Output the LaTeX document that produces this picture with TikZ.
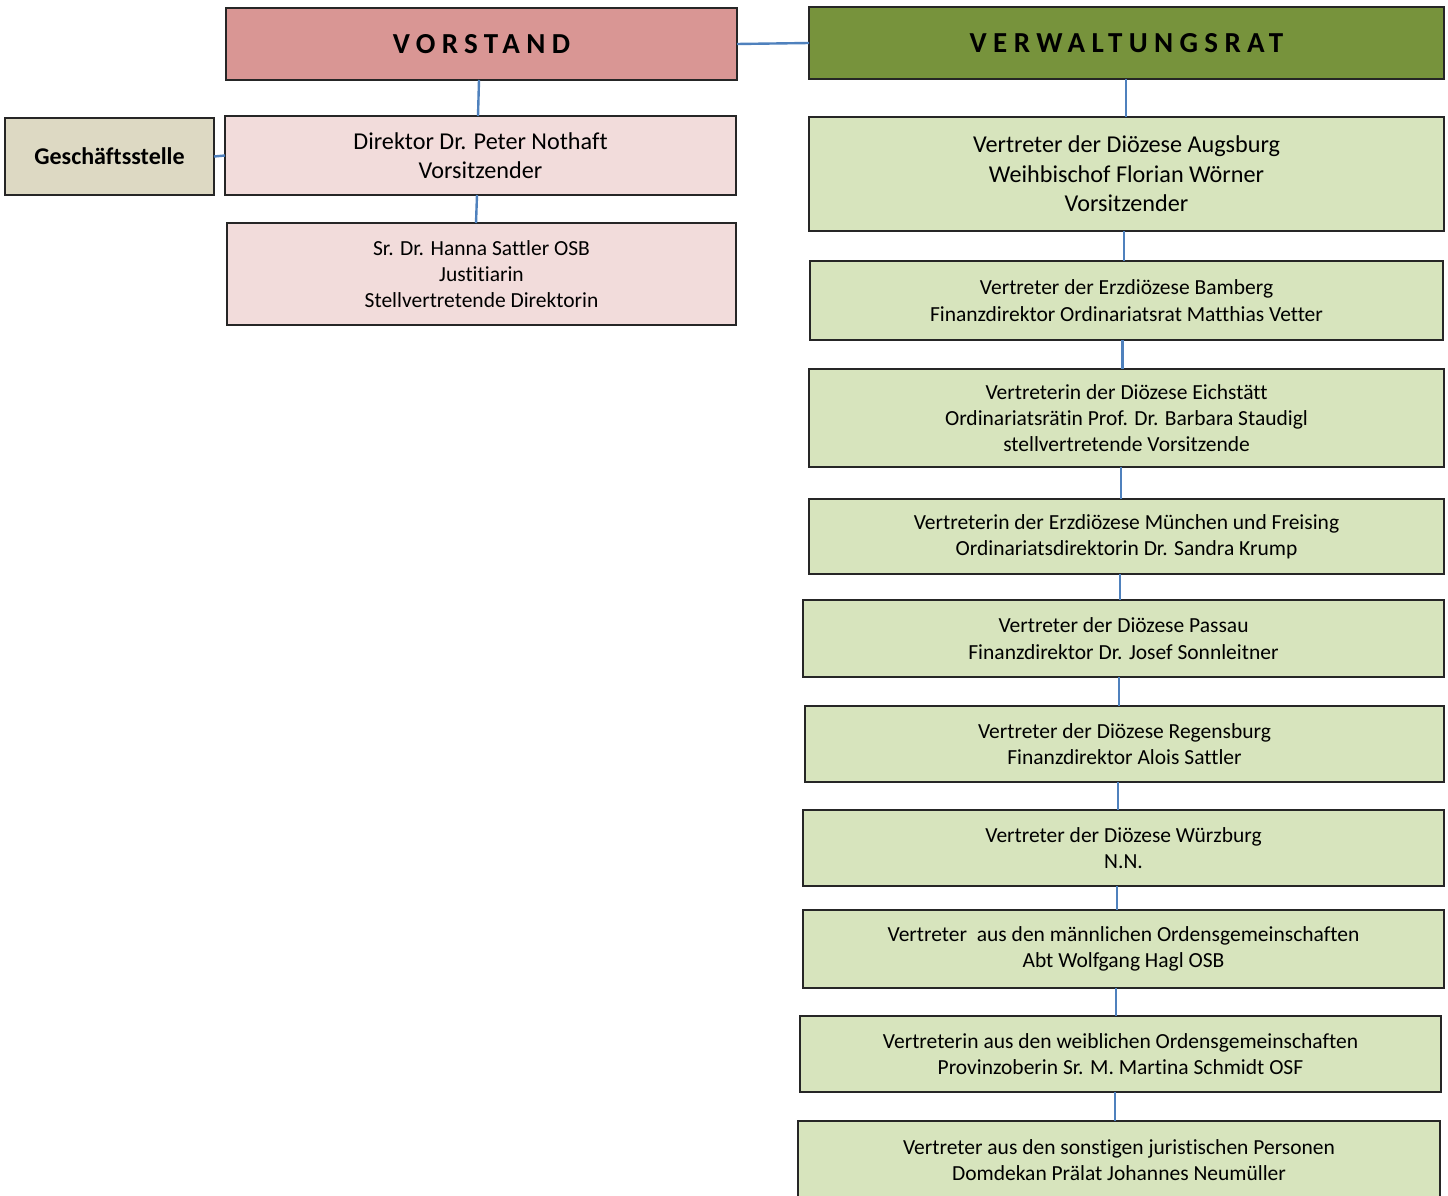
\documentclass[tikz,border=0pt]{standalone}
\usepackage{fontspec}
\setmainfont{Carlito}[Ligatures={NoCommon}]
\definecolor{hdrred}{HTML}{D99694}
\definecolor{hdrgreen}{HTML}{77933C}
\definecolor{lightpink}{HTML}{F2DCDB}
\definecolor{lightgreen}{HTML}{D7E4BD}
\definecolor{beige}{HTML}{DDD9C3}
\definecolor{conn}{HTML}{4F81BD}
\begin{document}
\begin{tikzpicture}[x=1pt,y=-1pt,
  box/.style={draw=black!85,line width=1.1pt,rectangle,inner sep=0pt,outer sep=0pt,anchor=north west,align=center},
  hdr/.style={box,font=\fontsize{29}{34}\selectfont\bfseries\addfontfeature{LetterSpace=22}},
  pinkbox/.style={box,fill=lightpink},
  greenbox/.style={box,fill=lightgreen},
  big/.style={font=\fontsize{24.2}{29.5}\selectfont},
  small/.style={font=\fontsize{21.5}{26.3}\selectfont},
  link/.style={conn,line width=2.4pt}]
\useasboundingbox (0,0) rectangle (1448,1196);
\clip (0,0) rectangle (1448,1196);
% headers
\node[hdr,fill=hdrred,minimum width=511pt,minimum height=72pt] (vor) at (226,8) {VORSTAND};
\node[hdr,fill=hdrgreen,minimum width=635pt,minimum height=72pt] (vr) at (809,7) {VERWALTUNGSRAT};
% left side
\node[box,fill=beige,minimum width=209pt,minimum height=77pt,font=\fontsize{24}{29}\selectfont\bfseries] (gs) at (5,118) {Geschäftsstelle};
\node[pinkbox,big,minimum width=511pt,minimum height=79pt] (dir) at (225,116) {Direktor Dr. Peter Nothaft\\Vorsitzender};
\node[pinkbox,small,minimum width=509pt,minimum height=102pt] (sr) at (227,223) {Sr. Dr. Hanna Sattler OSB\\Justitiarin\\Stellvertretende Direktorin};
% right side
\node[greenbox,big,minimum width=635pt,minimum height=114pt] (aug) at (809,117) {Vertreter der Diözese Augsburg\\Weihbischof Florian Wörner\\Vorsitzender};
\node[greenbox,small,minimum width=633pt,minimum height=79pt] (bam) at (810,261) {Vertreter der Erzdiözese Bamberg\\Finanzdirektor Ordinariatsrat Matthias Vetter};
\node[greenbox,small,minimum width=635pt,minimum height=98pt] (eich) at (809,369) {Vertreterin der Diözese Eichstätt\\Ordinariatsrätin Prof. Dr. Barbara Staudigl\\stellvertretende Vorsitzende};
\node[greenbox,small,minimum width=635pt,minimum height=75pt] (muc) at (809,499) {Vertreterin der Erzdiözese München und Freising\\Ordinariatsdirektorin Dr. Sandra Krump};
\node[greenbox,small,minimum width=641pt,minimum height=77pt] (pas) at (803,600) {Vertreter der Diözese Passau\\Finanzdirektor Dr. Josef Sonnleitner};
\node[greenbox,small,minimum width=639pt,minimum height=76pt] (reg) at (805,706) {Vertreter der Diözese Regensburg\\Finanzdirektor Alois Sattler};
\node[greenbox,small,minimum width=641pt,minimum height=76pt] (wue) at (803,810) {Vertreter der Diözese Würzburg\\N.N.};
\node[greenbox,small,minimum width=641pt,minimum height=78pt] (mae) at (803,910) {Vertreter\ \ aus den männlichen Ordensgemeinschaften\\Abt Wolfgang Hagl OSB};
\node[greenbox,small,minimum width=641pt,minimum height=76pt] (wei) at (800,1016) {Vertreterin aus den weiblichen Ordensgemeinschaften\\Provinzoberin Sr. M. Martina Schmidt OSF};
\node[greenbox,small,minimum width=642pt,minimum height=78pt] (son) at (798,1121) {Vertreter aus den sonstigen juristischen Personen\\Domdekan Prälat Johannes Neumüller};
% connectors
\draw[link] ([xshift=-2.5pt]vor.south) -- ([xshift=-2.5pt]dir.north);
\draw[link] ([xshift=-3.5pt]dir.south) -- ([xshift=-5.5pt]sr.north);
\draw[link] (gs.east) -- (dir.west);
\draw[link] (vor.east) -- (vr.west);
\draw[link] ([xshift=-0.5pt]vr.south) -- ([xshift=-0.5pt]aug.north);
\draw[link] ([xshift=-2.5pt]aug.south) -- ([xshift=-2.5pt]bam.north);
\draw[link] ([xshift=-4pt]bam.south) -- ([xshift=-4pt]eich.north);
\draw[link] ([xshift=-5.5pt]eich.south) -- ([xshift=-5.5pt]muc.north);
\draw[link] ([xshift=-6.5pt]muc.south) -- ([xshift=-3.5pt]pas.north);
\draw[link] ([xshift=-4.5pt]pas.south) -- ([xshift=-5.5pt]reg.north);
\draw[link] ([xshift=-6.5pt]reg.south) -- ([xshift=-5.5pt]wue.north);
\draw[link] ([xshift=-6.5pt]wue.south) -- ([xshift=-6.5pt]mae.north);
\draw[link] ([xshift=-7.5pt]mae.south) -- ([xshift=-4.5pt]wei.north);
\draw[link] ([xshift=-5.5pt]wei.south) -- ([xshift=-4pt]son.north);
\end{tikzpicture}
\end{document}
